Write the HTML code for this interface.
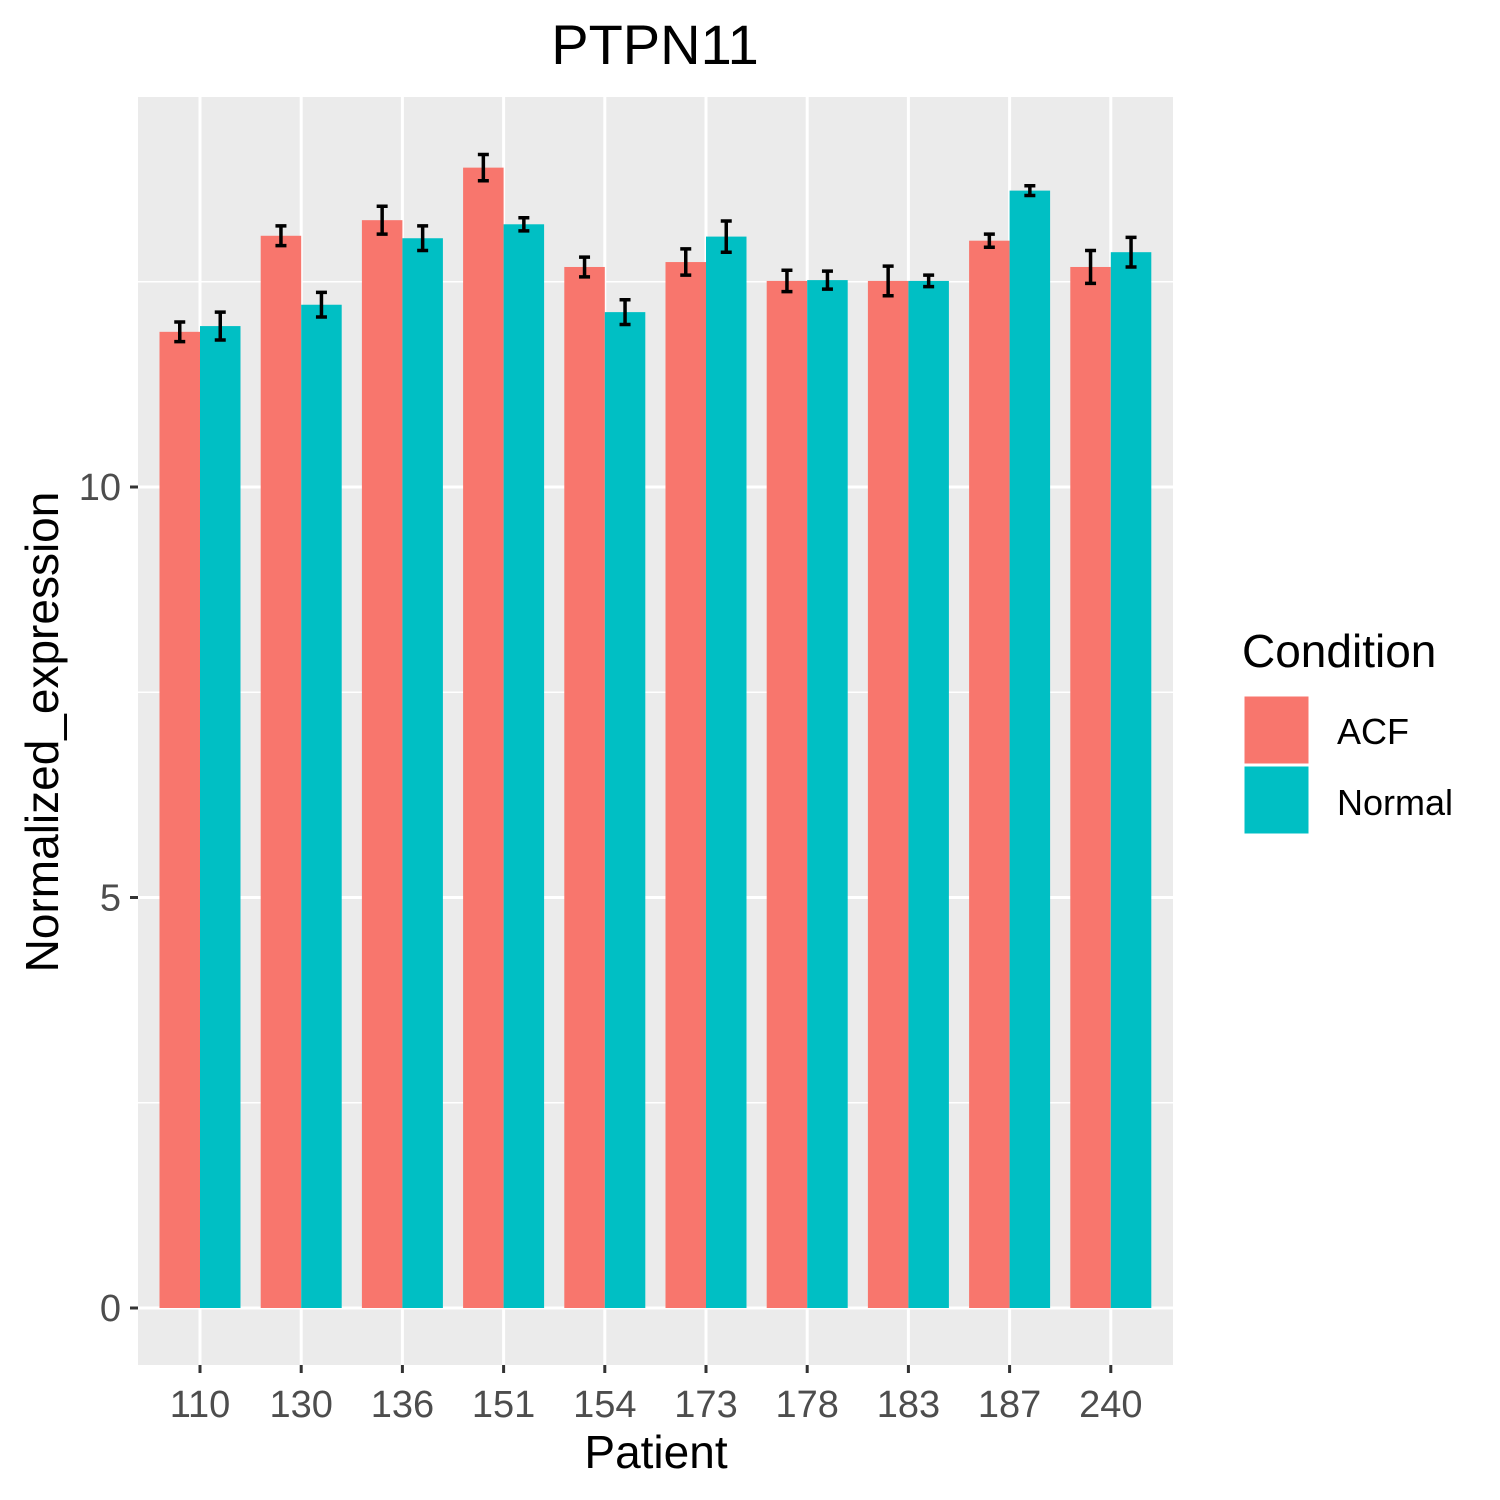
<!DOCTYPE html>
<html><head><meta charset="utf-8"><style>
body{margin:0;background:#fff}
svg{display:block;font-family:"Liberation Sans",Arial,sans-serif}
</style></head><body>
<svg id="chart" width="1500" height="1500" viewBox="0 0 1500 1500">
<rect x="138" y="97" width="1035" height="1268" fill="#ebebeb"/>
<g id="grid"></g><g id="bars"></g><g id="axes"></g>
<text x="655" y="64" font-size="56" text-anchor="middle" fill="#000">PTPN11</text>
<text x="656" y="1468" font-size="46" text-anchor="middle" fill="#000">Patient</text>
<text transform="translate(58,732) rotate(-90)" font-size="46" text-anchor="middle" fill="#000">Normalized_expression</text>
<g>
<text x="1242" y="667" font-size="46" fill="#000">Condition</text>
<rect x="1243" y="695" width="67" height="70" fill="#f8766d" stroke="#fff" stroke-width="3"/>
<text x="1337" y="744" font-size="36" fill="#000">ACF</text>
<rect x="1243" y="765" width="67" height="70" fill="#00bfc4" stroke="#fff" stroke-width="3"/>
<text x="1337" y="815" font-size="36" fill="#000">Normal</text>
</g>
</svg>
<script>
const categories=["110","130","136","151","154","173","178","183","187","240"];
const acfValues=[11.89,13.06,13.25,13.89,12.68,12.74,12.51,12.51,13.00,12.68];
const acfErrors=[0.12,0.12,0.17,0.16,0.12,0.16,0.13,0.18,0.08,0.20];
const normalValues=[11.96,12.22,13.03,13.20,12.13,13.05,12.52,12.51,13.61,12.86];
const normalErrors=[0.17,0.15,0.15,0.08,0.15,0.19,0.11,0.07,0.06,0.18];
const yTicks=[0,5,10];
const yMinor=[2.5,7.5,12.5];

const NS="http://www.w3.org/2000/svg";
const y=v=>1308-v*82.1;
const xc=i=>200+i*101.2;
function mk(parent,tag,attrs){const e=document.createElementNS(NS,tag);for(const k in attrs)e.setAttribute(k,attrs[k]);document.getElementById(parent).appendChild(e);return e;}
yMinor.forEach(v=>{const l=mk('grid','line',{x1:138,x2:1173,y1:y(v),y2:y(v),stroke:'#fff','stroke-width':1.5});

});
yTicks.forEach(v=>{const l=mk('grid','line',{x1:138,x2:1173,y1:y(v),y2:y(v),stroke:'#fff','stroke-width':3});


const t=mk('axes','line',{x1:130,x2:138,y1:y(v),y2:y(v),stroke:'#333','stroke-width':3});


const tx=mk('axes','text',{x:121,y:y(v)+13,'font-size':38,'text-anchor':'end',fill:'#4d4d4d'});tx.textContent=v;

});
categories.forEach((c,i)=>{const l=mk('grid','line',{x1:xc(i),x2:xc(i),y1:97,y2:1365,stroke:'#fff','stroke-width':3});


const t=mk('axes','line',{x1:xc(i),x2:xc(i),y1:1365,y2:1373,stroke:'#333','stroke-width':3});


const tx=mk('axes','text',{x:xc(i),y:1417,'font-size':38,'text-anchor':'middle',fill:'#4d4d4d'});tx.textContent=c;


[[acfValues,acfErrors,-40.5,'#f8766d','acf'],[normalValues,normalErrors,0,'#00bfc4','normal']].forEach(([vals,errs,off,col,nm])=>{
const b=mk('bars','rect',{x:xc(i)+off,y:y(vals[i]),width:40.5,height:y(0)-y(vals[i]),fill:col});


const cx=xc(i)+off+20.25,hi=y(vals[i]+errs[i]),lo=y(vals[i]-errs[i]);
const eb=mk('bars','path',{d:`M${cx-5.5},${hi}H${cx+5.5}M${cx},${hi}V${lo}M${cx-5.5},${lo}H${cx+5.5}`,stroke:'#000','stroke-width':3.5,fill:'none'});

});});
</script>
</body></html>
